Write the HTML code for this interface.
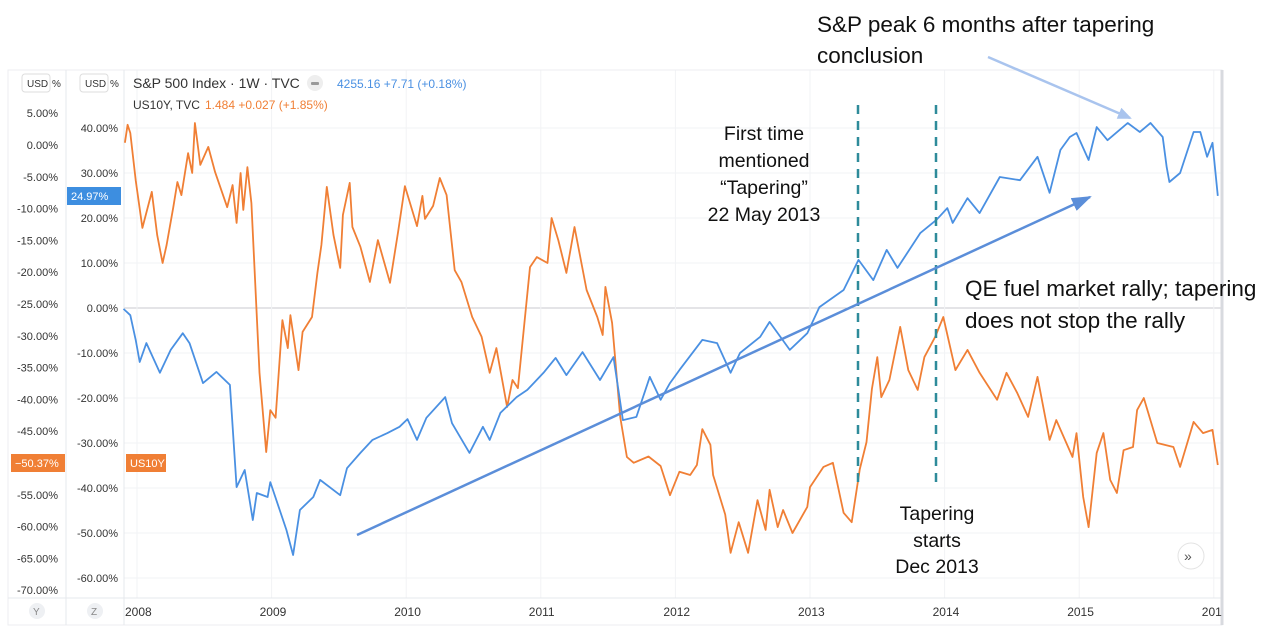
<!DOCTYPE html>
<html><head><meta charset="utf-8">
<style>
html,body{margin:0;padding:0;background:#fff;width:1280px;height:637px;overflow:hidden;font-family:"Liberation Sans",sans-serif;}
svg{display:block}
</style></head>
<body>
<svg id="chart" width="1280" height="637" viewBox="0 0 1280 637" xmlns="http://www.w3.org/2000/svg">
<g id="grid"></g>
<g id="axes"></g>
<g id="series"></g>
<g id="annot"></g>
</svg>
<script>
// ---- data ----
const innerTicks = [40,30,20,10,0,-10,-20,-30,-40,-50,-60];
const outerTicks = [5,0,-5,-10,-15,-20,-25,-30,-35,-40,-45,-50,-55,-60,-65,-70];
const years = [2008,2009,2010,2011,2012,2013,2014,2015,2016];
const yearLabels = ["2008","2009","2010","2011","2012","2013","2014","2015","201"];
const spxDates = [2007.90,2007.95,2007.99,2008.02,2008.07,2008.17,2008.25,2008.34,2008.39,2008.49,2008.59,2008.69,2008.74,2008.80,2008.86,2008.89,2008.97,2008.99,2009.06,2009.11,2009.16,2009.21,2009.31,2009.36,2009.51,2009.56,2009.66,2009.75,2009.86,2009.95,2010.01,2010.08,2010.15,2010.29,2010.34,2010.47,2010.57,2010.62,2010.70,2010.82,2010.90,2011.02,2011.11,2011.19,2011.31,2011.44,2011.54,2011.61,2011.71,2011.81,2011.89,2011.96,2012.03,2012.20,2012.31,2012.41,2012.48,2012.63,2012.70,2012.85,2012.98,2013.07,2013.25,2013.36,2013.47,2013.57,2013.65,2013.82,2013.94,2014.02,2014.06,2014.17,2014.26,2014.41,2014.56,2014.69,2014.78,2014.86,2014.93,2014.98,2015.07,2015.13,2015.21,2015.36,2015.45,2015.53,2015.62,2015.65,2015.67,2015.75,2015.85,2015.90,2015.95,2015.99,2016.03];
const spxValues = [-0.2,-1.6,-7.1,-12.0,-7.8,-14.4,-9.3,-5.6,-7.8,-16.7,-14.2,-17.1,-39.8,-36.0,-47.1,-41.1,-42.0,-38.7,-44.9,-49.3,-54.9,-44.9,-42.0,-38.2,-41.6,-35.6,-32.2,-29.3,-27.8,-26.4,-24.7,-29.3,-24.4,-19.8,-25.6,-32.2,-26.4,-29.3,-23.3,-19.8,-18.2,-14.4,-11.1,-14.9,-9.8,-16.0,-10.9,-24.9,-24.2,-15.3,-20.4,-16.7,-13.8,-7.1,-7.8,-14.4,-10.0,-6.4,-3.1,-9.3,-5.6,0.2,4.0,10.7,6.2,12.9,8.9,16.7,19.6,22.2,18.9,24.4,21.1,29.1,28.4,33.6,25.6,35.1,38.0,38.9,32.9,40.2,37.3,41.1,39.1,41.1,38.0,31.3,28.0,30.0,39.1,39.1,33.6,36.7,24.9];
const tnxDates = [2007.91,2007.93,2007.95,2007.99,2008.04,2008.11,2008.15,2008.19,2008.22,2008.27,2008.30,2008.33,2008.38,2008.41,2008.43,2008.47,2008.53,2008.58,2008.67,2008.71,2008.74,2008.77,2008.79,2008.82,2008.85,2008.91,2008.96,2008.99,2009.03,2009.08,2009.12,2009.14,2009.20,2009.23,2009.30,2009.34,2009.37,2009.41,2009.46,2009.51,2009.53,2009.58,2009.60,2009.66,2009.73,2009.79,2009.88,2009.94,2009.99,2010.08,2010.12,2010.14,2010.20,2010.25,2010.30,2010.36,2010.41,2010.49,2010.56,2010.62,2010.67,2010.75,2010.79,2010.83,2010.92,2010.97,2011.05,2011.08,2011.13,2011.19,2011.25,2011.34,2011.42,2011.46,2011.48,2011.53,2011.59,2011.64,2011.69,2011.80,2011.89,2011.96,2012.03,2012.11,2012.16,2012.20,2012.26,2012.28,2012.37,2012.41,2012.47,2012.54,2012.61,2012.67,2012.70,2012.76,2012.80,2012.87,2012.98,2013.00,2013.10,2013.17,2013.25,2013.31,2013.37,2013.42,2013.46,2013.50,2013.53,2013.59,2013.67,2013.73,2013.80,2013.85,2013.93,2013.99,2014.08,2014.17,2014.26,2014.39,2014.46,2014.54,2014.62,2014.69,2014.78,2014.83,2014.95,2014.98,2015.03,2015.07,2015.13,2015.18,2015.23,2015.28,2015.33,2015.40,2015.43,2015.48,2015.58,2015.70,2015.75,2015.85,2015.92,2015.99,2016.03];
const tnxValues = [36.7,40.7,38.9,28.4,17.8,25.8,16.2,10.0,14.0,22.4,28.0,25.1,34.4,30.0,41.1,31.8,35.8,30.2,22.4,27.3,18.9,30.0,21.8,31.3,23.3,-14.4,-32.0,-22.7,-24.4,-2.7,-8.9,-1.6,-13.8,-5.3,-2.0,7.8,14.0,26.9,16.2,8.9,20.7,27.8,18.0,13.6,5.8,15.1,5.6,16.9,27.1,18.2,24.9,19.8,22.7,28.9,25.1,8.4,5.8,-2.0,-6.4,-14.4,-8.9,-22.0,-16.0,-17.8,9.1,11.3,10.0,20.0,15.1,7.8,18.0,4.0,-2.0,-6.0,4.7,-3.3,-24.2,-33.1,-34.4,-33.0,-35.1,-41.6,-36.4,-37.1,-34.9,-26.9,-30.4,-37.1,-45.9,-54.4,-47.6,-54.4,-42.7,-49.3,-40.4,-48.7,-44.9,-50.0,-44.2,-39.8,-35.3,-34.4,-45.5,-47.6,-35.8,-29.8,-18.0,-10.9,-19.8,-16.0,-4.2,-13.8,-18.2,-10.9,-6.4,-2.0,-13.8,-9.3,-14.4,-20.4,-14.4,-18.9,-24.2,-15.3,-29.3,-24.9,-33.1,-27.8,-42.0,-48.7,-32.2,-27.8,-38.2,-41.1,-31.6,-30.9,-22.7,-20.0,-30.0,-30.9,-35.3,-25.3,-27.8,-27.1,-34.9];

// ---- axes functions ----
const X0=124, X1=1222, YTOP=70, YBOT=598;
const xScale = t => 137 + (t-2008)*134.6;
const yScale = v => 308 - v*4.5;
const yOuter = v => 145 - v*6.36;
const NS="http://www.w3.org/2000/svg";
function mk(parent,tag,attrs,text){const e=document.createElementNS(NS,tag);for(const k in attrs)e.setAttribute(k,attrs[k]);if(text!==undefined)e.textContent=text;document.getElementById(parent).appendChild(e);return e;}

let e;
e=mk('axes','rect',{x:8,y:70,width:1214,height:555,fill:'none',stroke:'#eceef1','stroke-width':1});

e=mk('axes','line',{x1:66,y1:70,x2:66,y2:625,stroke:'#e6e8ec'});

e=mk('axes','line',{x1:124,y1:70,x2:124,y2:625,stroke:'#e6e8ec'});

e=mk('axes','line',{x1:8,y1:598,x2:1222,y2:598,stroke:'#e6e8ec'});

e=mk('axes','line',{x1:1222,y1:70,x2:1222,y2:625,stroke:'#d8dadf','stroke-width':3});


innerTicks.forEach(v=>{
  const y=yScale(v);
  const g=mk('grid','line',{x1:X0,y1:y,x2:X1,y2:y,stroke:v===0?'#c8cacf':'#f2f3f5','stroke-width':1});
  
  const t=mk('axes','text',{x:118,y:y+4,'text-anchor':'end','font-size':11,fill:'#333'},v.toFixed(2)+'%');
  
});
outerTicks.forEach(v=>{
  const y=yOuter(v);
  const t=mk('axes','text',{x:58,y:y+4,'text-anchor':'end','font-size':11,fill:'#333'},v.toFixed(2)+'%');
  
});
years.forEach((yr,i)=>{
  const x=xScale(yr);
  const g=mk('grid','line',{x1:x,y1:YTOP,x2:x,y2:YBOT,stroke:'#f2f3f5'});
  
  const t=mk('axes','text',{x:x-12,y:616,'font-size':12,fill:'#333'},yearLabels[i]);
  
});

function line(dates,vals,color,name){
  const d=dates.map((t,i)=>(i?'L':'M')+xScale(t).toFixed(1)+' '+yScale(vals[i]).toFixed(1)).join(' ');
  const p=mk('series','path',{d:d,fill:'none',stroke:color,'stroke-width':1.8,'stroke-linejoin':'round'});
  
}
line(tnxDates,tnxValues,'#f07f35','us10y-line');
line(spxDates,spxValues,'#4a90e2','sp500-line');
</script>

<svg style="position:absolute;left:0;top:0" width="1280" height="637">
<defs>
<marker id="ah2" markerWidth="14" markerHeight="12" refX="12" refY="6" orient="auto" markerUnits="userSpaceOnUse"><path d="M0,0 L14,6 L0,12 z" fill="#a9c4ee"/></marker>
<marker id="ah3" markerWidth="20" markerHeight="14" refX="18" refY="7" orient="auto" markerUnits="userSpaceOnUse"><path d="M0,0 L20,7 L0,14 z" fill="#5b8ed9"/></marker>
</defs>
<g font-size="11" fill="#333">
<rect x="22" y="74" width="28" height="18" rx="3" fill="#fff" stroke="#ddd"/>
<text x="27" y="87" font-size="10">USD</text><text x="52" y="87" font-size="10">%</text>
<rect x="80" y="74" width="28" height="18" rx="3" fill="#fff" stroke="#ddd"/>
<text x="85" y="87" font-size="10">USD</text><text x="110" y="87" font-size="10">%</text>
<text x="133" y="88" font-size="14" fill="#333">S&amp;P 500 Index · 1W · TVC</text>
<circle cx="315" cy="83" r="8" fill="#eee"/>
<rect x="311" y="82" width="8" height="3" rx="1" fill="#999"/>
<text x="337" y="88" font-size="12" fill="#4a90e2">4255.16 +7.71 (+0.18%)</text>
<text x="133" y="109" font-size="12" fill="#333">US10Y, TVC</text>
<text x="205" y="109" font-size="12" fill="#f07f35">1.484 +0.027 (+1.85%)</text>
</g>
<rect x="67" y="187" width="54" height="18" fill="#3d8ee0"/>
<text x="71" y="200" font-size="11" fill="#fff">24.97%</text>
<rect x="11" y="454" width="54" height="18" fill="#f07f35"/>
<text x="15" y="467" font-size="11" fill="#fff">−50.37%</text>
<rect x="126" y="454" width="40" height="18" fill="#f07f35"/>
<text x="130" y="467" font-size="11" fill="#fff">US10Y</text>
<circle cx="37" cy="611" r="8" fill="#eef0f3"/><text x="33" y="615" font-size="10" fill="#888">Y</text>
<circle cx="95" cy="611" r="8" fill="#eef0f3"/><text x="91" y="615" font-size="10" fill="#888">Z</text>
<circle cx="1191" cy="556" r="13" fill="#fff" stroke="#e3e3e3"/><text x="1184" y="561" font-size="14" fill="#555">»</text>
<line x1="858" y1="105" x2="858" y2="485" stroke="#2e8b9a" stroke-width="2.5" stroke-dasharray="9,7"/>
<line x1="936" y1="105" x2="936" y2="485" stroke="#2e8b9a" stroke-width="2.5" stroke-dasharray="9,7"/>
<line x1="357" y1="535" x2="1090" y2="197" stroke="#5b8ed9" stroke-width="2.5" marker-end="url(#ah3)"/>
<line x1="988" y1="57" x2="1130" y2="118" stroke="#a9c4ee" stroke-width="2.5" marker-end="url(#ah2)"/>
<g font-family="Liberation Sans, sans-serif" fill="#111">
<text x="817" y="32" font-size="22.5">S&amp;P peak 6 months after tapering<tspan x="817" y="63">conclusion</tspan></text>
<text x="764" y="140" font-size="19.5" text-anchor="middle">First time<tspan x="764" y="167">mentioned</tspan><tspan x="764" y="194">“Tapering”</tspan><tspan x="764" y="221">22 May 2013</tspan></text>
<text x="937" y="520" font-size="19.5" text-anchor="middle">Tapering<tspan x="937" y="547">starts</tspan><tspan x="937" y="573">Dec 2013</tspan></text>
<text x="965" y="296" font-size="22.5">QE fuel market rally; tapering<tspan x="965" y="328">does not stop the rally</tspan></text>
</g>
</svg>
</body></html>
